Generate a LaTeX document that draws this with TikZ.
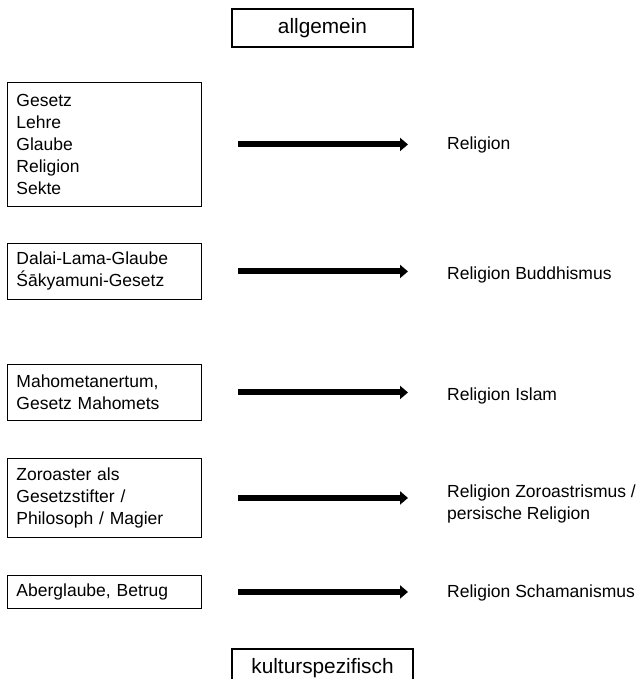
\documentclass[tikz,border=0pt]{standalone}
\usepackage{fontspec}
\setmainfont{Liberation Sans}
\usetikzlibrary{arrows.meta, positioning}

\tikzset{
  ebene/.style={draw, line width=2.2pt, minimum width=181pt, minimum height=38pt, inner sep=0pt, font=\fontsize{20.8}{24}\selectfont},
  quelle/.style={draw, line width=0.9pt, anchor=north west, minimum width=194pt, text width=176pt, inner xsep=9pt, inner ysep=0pt, align=left, font=\fontsize{17.5}{22}\selectfont},
  begriff/.style={anchor=west, inner sep=0pt, align=left, font=\fontsize{17.5}{22}\selectfont},
  pfeil/.style={line width=6pt, -{Triangle[length=8pt, width=13pt]}, shorten <=36pt, shorten >=39pt}
}

\begin{document}
\begin{tikzpicture}[x=1pt, y=-1pt]
  \clip (0,0) rectangle (640,679);

  % Ebenen oben und unten
  \node[ebene] (allg) at (322.5,28) {allgemein};
  \node[ebene, anchor=north] (kult) at (322.5,648) {kulturspezifisch};

  % Quellbegriffe links
  \node[quelle, minimum height=124pt] (q1) at (7,82) {Gesetz\\Lehre\\Glaube\\Religion\\Sekte};
  \node[quelle, minimum height=56pt] (q2) at (7,243) {Dalai-Lama-Glaube\\Śākyamuni-Gesetz};
  \node[quelle, minimum height=56pt] (q3) at (7,364) {Mahometanertum,\\Gesetz Mahomets};
  \node[quelle, minimum height=79pt] (q4) at (7,458) {Zoroaster als\\Gesetzstifter /\\Philosoph / Magier};
  \node[quelle, minimum height=33pt] (q5) at (7,575) {Aberglaube, Betrug};

  % Zielbegriffe rechts
  \node[begriff] (z1) at (447,145) {Religion};
  \node[begriff] (z2) at (447,275) {Religion Buddhismus};
  \node[begriff] (z3) at (447,396) {Religion Islam};
  \node[begriff] (z4) at (447,504) {Religion Zoroastrismus /\\persische Religion};
  \node[begriff] (z5) at (447,593) {Religion Schamanismus};

  % Pfeile
  \foreach \i in {1,...,5} {
    \draw[pfeil] (q\i.east) -- (q\i.east -| z\i.west);
  }
\end{tikzpicture}
\end{document}
